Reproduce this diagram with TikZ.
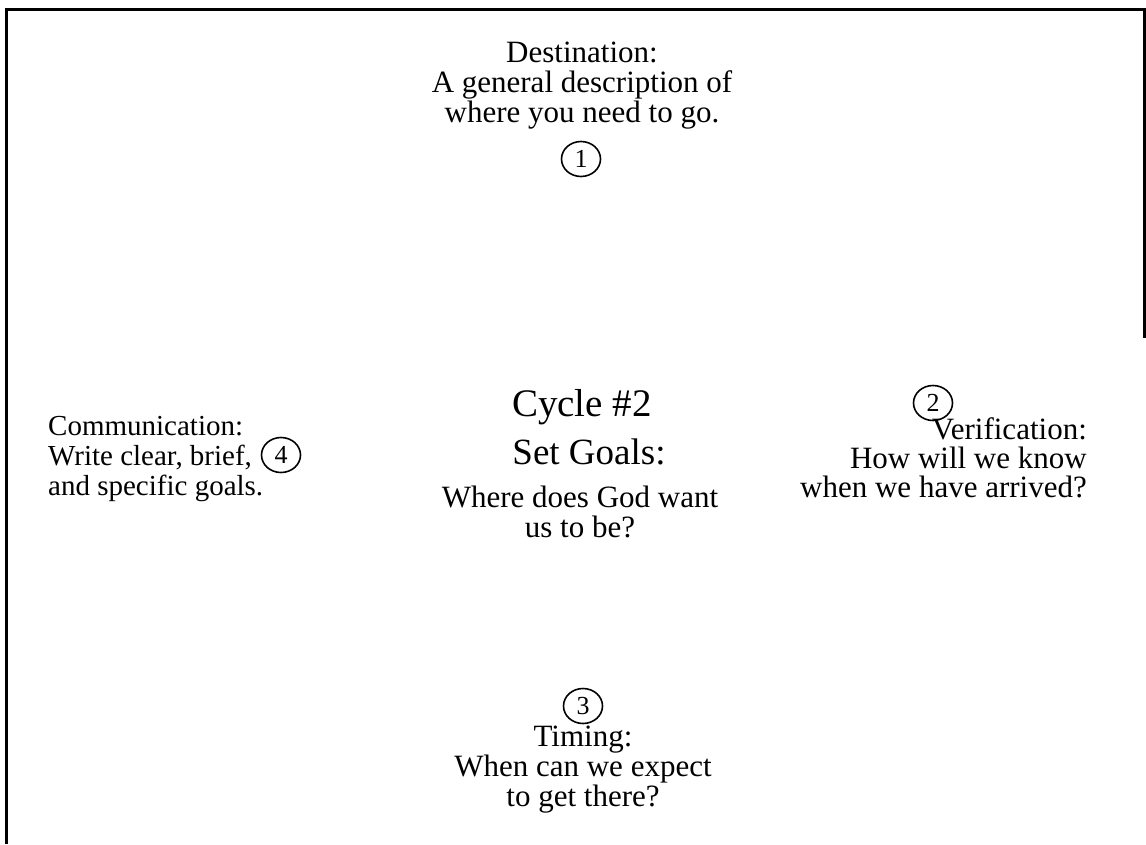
\documentclass[tikz,border=0pt]{standalone}
\usepackage{fontspec}
\setmainfont{Liberation Serif}
\usetikzlibrary{shapes.geometric}
\begin{document}
\begin{tikzpicture}[x=1pt,y=-1pt,
  txt/.style={font=\fontsize{31}{30}\selectfont, inner sep=0pt, align=center},
  big/.style={font=\fontsize{38}{47}\selectfont, inner sep=0pt},
  num/.style={draw, line width=1.6pt, ellipse, minimum width=39pt, minimum height=35pt, inner sep=0pt, font=\fontsize{26}{26}\selectfont},
  frame/.style={line width=3pt}]
\useasboundingbox (0,0) rectangle (1146,844);
\draw[frame] (6,844) -- (6,9) -- (1144,9) -- (1144,338);
\node[txt, anchor=base] (dest) at (582,122) {Destination:\\A general description of\\where you need to go.};
\node[num] (n1) at (581,159) {1};
\node[txt, font=\fontsize{29}{30}\selectfont, anchor=base west, align=left] (comm) at (48,495) {Communication:\\Write clear, brief,\\and specific goals.};
\node[num] (n4) at (281,455) {4};
\node[big, font=\fontsize{39}{47}\selectfont, anchor=base] (cyc) at (582,416) {Cycle \#2};
\node[big, font=\fontsize{37}{47}\selectfont, anchor=base] (set) at (589,464) {Set Goals:};
\node[txt, anchor=base] (where) at (580,537) {Where does God want\\us to be?};
\node[num] (n2) at (933,403) {2};
\node[txt, font=\fontsize{31}{29}\selectfont, anchor=base east, align=right] (ver) at (1087,497) {Verification:\\How will we know\\when we have arrived?};
\node[num] (n3) at (583,706) {3};
\node[txt, anchor=base] (tim) at (583,806) {Timing:\\When can we expect\\to get there?};
\end{tikzpicture}
\end{document}
